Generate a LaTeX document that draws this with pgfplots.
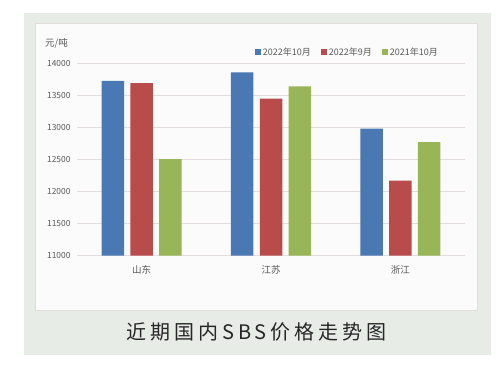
\documentclass[border=0pt]{standalone}
\usepackage{pgfplots}
\pgfplotsset{compat=1.18}
\usepackage{fontspec}
\setmainfont{Noto Sans CJK SC}
\newfontfamily\titlefont[LetterSpace=20]{Noto Sans CJK SC}
\definecolor{panel}{HTML}{E7ECE7}
\definecolor{cblue}{HTML}{4A78B2}
\definecolor{cred}{HTML}{B84C4A}
\definecolor{cgreen}{HTML}{98B658}
\definecolor{gridc}{HTML}{E2DCDC}
\definecolor{txt}{HTML}{595959}
\begin{document}
\begin{tikzpicture}[x=1pt,y=1pt]
\useasboundingbox (0,0) rectangle (497,365);
\fill[white] (0,0) rectangle (497,365);
\fill[panel] (24,{365-355}) rectangle (491,{365-13.3});
\filldraw[fill=white!97!gray, draw=gridc, line width=0.8pt] (35.5,{365-310}) rectangle (477.3,{365-23.5});
\node[anchor=west, text=txt, font=\fontsize{9.5}{10}\selectfont, inner sep=0pt] at (45,{365-43.5}) {元/吨};
\begin{axis}[
  at={(77pt,{(365-255.7)*1pt})}, anchor=south west,
  scale only axis, width=388pt, height=192.4pt,
  xmin=-0.5, xmax=2.5, ymin=11000, ymax=14000,
  ybar=6.3pt, bar width=22.5pt,
  xtick={0,1,2}, xticklabels={山东,江苏,浙江},
  ytick={11000,11500,...,14000},
  scaled y ticks=false,
  yticklabel style={/pgf/number format/fixed, /pgf/number format/1000 sep={}, /pgf/number format/assume math mode=true, xshift=-3pt, font=\fontsize{8.4}{9}\selectfont},
  ymajorgrids, grid style={gridc, line width=0.8pt},
  axis line style={draw=none},
  major tick length=0pt,
  tick label style={text=txt},
  xticklabel style={yshift=-6pt, font=\fontsize{9.5}{10}\selectfont},
  legend columns=3,
  legend style={at={(0.458,1.057)}, anchor=west, draw=none, fill=none, inner sep=0pt,
    font=\fontsize{9}{10}\selectfont, text=txt,
    /tikz/every even column/.append style={column sep=8pt}},
  legend image code/.code={\fill[#1] (0pt,-3pt) rectangle (6pt,3pt);},
]
\addplot[fill=cblue, draw=none] coordinates {(0,13725) (1,13860) (2,12980)};
\addplot[fill=cred, draw=none] coordinates {(0,13690) (1,13450) (2,12170)};
\addplot[fill=cgreen, draw=none] coordinates {(0,12505) (1,13640) (2,12770)};
\legend{2022年10月,2022年9月,2021年10月}
\end{axis}
\node[font=\titlefont\fontsize{20}{21}\selectfont, text=black!85] at (256.5,{365-331.5}) {近期国内SBS价格走势图};
\end{tikzpicture}
\end{document}
